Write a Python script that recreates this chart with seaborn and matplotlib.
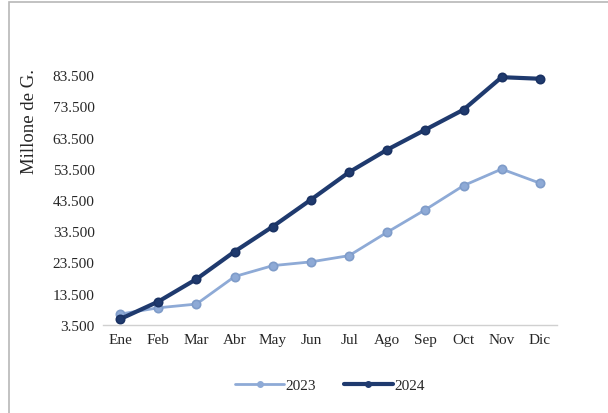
import matplotlib
matplotlib.use('Agg')
import matplotlib.pyplot as plt
import matplotlib.patches as mpatches
import seaborn as sns
import pandas as pd

meses = ['Ene', 'Feb', 'Mar', 'Abr', 'May', 'Jun', 'Jul', 'Ago', 'Sep', 'Oct', 'Nov', 'Dic']
v2023 = [7000, 9000, 10200, 19000, 22500, 23700, 25700, 33200, 40400, 48100, 53400, 48900]
v2024 = [5400, 11000, 18200, 27000, 35000, 43600, 52400, 59600, 66000, 72400, 82800, 82300]
yticks = [3500, 13500, 23500, 33500, 43500, 53500, 63500, 73500, 83500]
ytick_labels = ['3.500', '13.500', '23.500', '33.500', '43.500', '53.500', '63.500', '73.500', '83.500']

df = pd.DataFrame({
    'mes': meses * 2,
    'valor': v2023 + v2024,
    'anio': ['2023'] * 12 + ['2024'] * 12,
})

sns.set_style('white')
plt.rcParams['font.family'] = ['Liberation Serif', 'DejaVu Serif']

colors = {'2023': '#8eaad6', '2024': '#1f3a6e'}

fig = plt.figure(figsize=(6.08, 4.14), dpi=100)
ax = fig.add_axes([103/608, 1-326/414, (557-103)/608, (326-76)/414])

sns.lineplot(data=df, x='mes', y='valor', hue='anio', palette=colors, marker='o',
             markersize=6, sort=False, ax=ax, legend=False, clip_on=False)
for line, lw, c in zip(ax.get_lines(), [2.0, 3.0], ['#7f9cc9', '#1a3263']):
    line.set_linewidth(lw)
    line.set_markeredgecolor(c)
    line.set_markeredgewidth(1.2)

ax.set_ylim(3500, 83500)
ax.set_xlim(-0.45, 11.45)
ax.set_yticks(yticks, labels=ytick_labels, fontsize=11)
ax.set_xticks(range(12), labels=meses, fontsize=11)
ax.tick_params(axis='both', length=0, pad=6)
ax.set_xlabel('')
ax.set_ylabel('')
for s in ['top', 'right', 'left']:
    ax.spines[s].set_visible(False)
ax.spines['bottom'].set_color('#d0d0d0')
ax.spines['bottom'].set_linewidth(1)

fig.text(30/608, 1-122/414, 'Millone de G.', rotation=90, ha='center', va='center', fontsize=13.5)

handles = [plt.Line2D([], [], color=colors['2023'], lw=2.0, marker='o', markersize=4),
           plt.Line2D([], [], color=colors['2024'], lw=3.0, marker='o', markersize=4)]
fig.legend(handles, ['2023', '2024'], loc='center', bbox_to_anchor=(330/608, 1-386/414),
           ncol=2, frameon=False, fontsize=11, handlelength=3.2, columnspacing=1.8,
           handletextpad=0.1)

# outer chart border (left and top visible)
fig.patches.append(mpatches.Rectangle((9/608, -0.1), 1.2, 1-3/414+0.1, transform=fig.transFigure,
                                      fill=False, edgecolor='#b8b8b8', linewidth=1.2))

fig.savefig('out.png', dpi=100)
